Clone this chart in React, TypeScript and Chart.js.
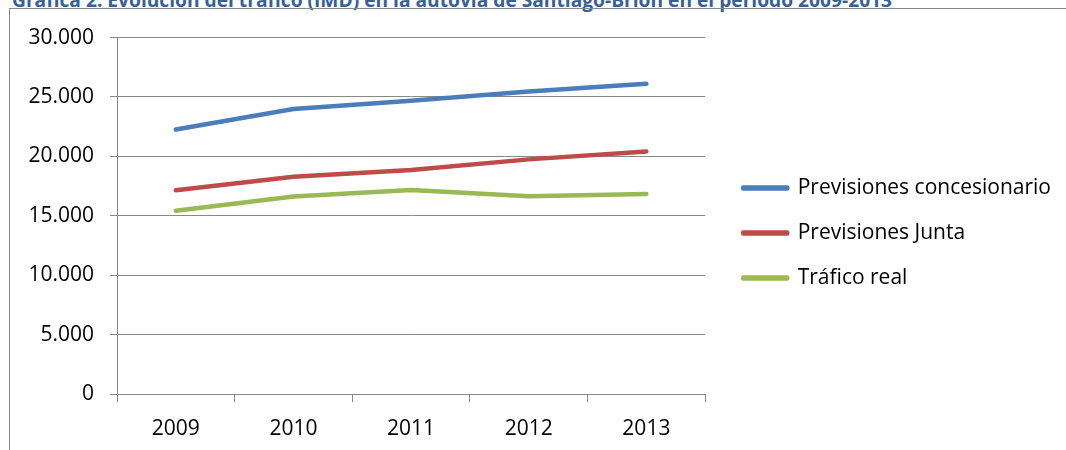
import React, { useEffect, useRef } from "react";
import { Chart, registerables } from "chart.js";

Chart.register(...registerables);

const titleText =
  "Gráfica 2. Evolución del tráfico (IMD) en la autovía de Santiago-Brión en el período 2009-2013";
const categories = ["2009", "2010", "2011", "2012", "2013"];
const seriesNames = ["Previsiones concesionario", "Previsiones Junta", "Tráfico real"];
const concesionario = [22260, 23990, 24690, 25470, 26110];
const junta = [17150, 18290, 18850, 19750, 20420];
const traficoReal = [15420, 16620, 17180, 16650, 16840];
const seriesColors = ["#4A7EBB", "#BE4B48", "#98B954"];
const yTicks = [0, 5000, 10000, 15000, 20000, 25000, 30000];

const FONT = "'Open Sans', sans-serif";
const GRID = "#888888";

function fmt(v: number): string {
  return String(Math.round(v)).replace(/\B(?=(\d{3})+(?!\d))/g, ".");
}

export default function App() {
  const ref = useRef<HTMLCanvasElement | null>(null);

  useEffect(() => {
    if (!ref.current) return;
    const values = [concesionario, junta, traficoReal];
    const chart = new Chart(ref.current, {
      type: "line",
      data: {
        labels: categories,
        datasets: seriesNames.map((name, i) => ({
          label: name,
          data: values[i],
          borderColor: seriesColors[i],
          backgroundColor: seriesColors[i],
          borderWidth: 4.5,
          borderCapStyle: "round" as const,
          borderJoinStyle: "round" as const,
          pointRadius: 0,
          pointHoverRadius: 0,
          tension: 0,
          fill: false,
        })),
      },
      options: {
        animation: false,
        responsive: true,
        maintainAspectRatio: false,
        layout: { padding: 0 },
        plugins: {
          title: { display: false },
          tooltip: { enabled: false },
          legend: {
            display: true,
            position: "right",
            align: "center",
            maxWidth: 500,
            labels: {
              boxWidth: 44,
              boxHeight: 1,
              padding: 24,
              color: "#000",
              font: { family: FONT, size: 21 },
            },
          },
        },
        scales: {
          x: {
            type: "category",
            offset: true,
            grid: {
              offset: true,
              drawOnChartArea: false,
              drawTicks: true,
              tickLength: 8,
              color: GRID,
              lineWidth: 1,
            },
            border: { display: true, color: GRID, width: 1 },
            ticks: {
              color: "#000",
              font: { family: FONT, size: 21 },
              padding: 14,
              maxRotation: 0,
              autoSkip: false,
            },
            afterFit: (s: any) => {
              s.height = 63;
            },
          },
          y: {
            type: "linear",
            min: 0,
            max: 30000,
            afterBuildTicks: (s: any) => {
              s.ticks = yTicks.map((v) => ({ value: v }));
            },
            grid: {
              drawOnChartArea: true,
              drawTicks: true,
              tickLength: 7,
              color: GRID,
              lineWidth: 1,
            },
            border: { display: true, color: GRID, width: 1 },
            ticks: {
              color: "#000",
              font: { family: FONT, size: 21 },
              padding: 16,
              callback: (v: any) => fmt(Number(v)),
            },
            afterFit: (s: any) => {
              s.width = 107;
            },
          },
          spacerRight: {
            type: "linear",
            position: "right",
            display: true,
            grid: { display: false, drawTicks: false },
            border: { display: false },
            ticks: { display: false },
            afterFit: (s: any) => {
              s.width = 14;
            },
          },
          spacerTop: {
            type: "linear",
            position: "top",
            display: true,
            grid: { display: false, drawTicks: false },
            border: { display: false },
            ticks: { display: false },
            afterFit: (s: any) => {
              s.height = 28;
            },
          },
        },
      },
    } as any);
    return () => chart.destroy();
  }, []);

  return (
    <div style={{ position: "absolute", left: 0, top: 0, width: 1066, height: 450, overflow: "hidden", background: "#fff" }}>
      <div
        style={{
          position: "absolute",
          left: 12,
          top: -12,
          whiteSpace: "nowrap",
          fontFamily: FONT,
          fontWeight: 700,
          fontSize: 19.2,
          color: "#36609A",
          lineHeight: "24px",
        }}
      >
        {titleText}
      </div>
      <div
        style={{
          position: "absolute",
          left: 9,
          top: 8,
          width: 1100,
          height: 500,
          borderLeft: "1.5px solid #8a8a8a",
          borderTop: "1.5px solid #8a8a8a",
          boxSizing: "border-box",
        }}
      />
      <div style={{ position: "absolute", left: 10, top: 9, width: 1051, height: 448 }}>
        <canvas ref={ref} />
      </div>
    </div>
  );
}
